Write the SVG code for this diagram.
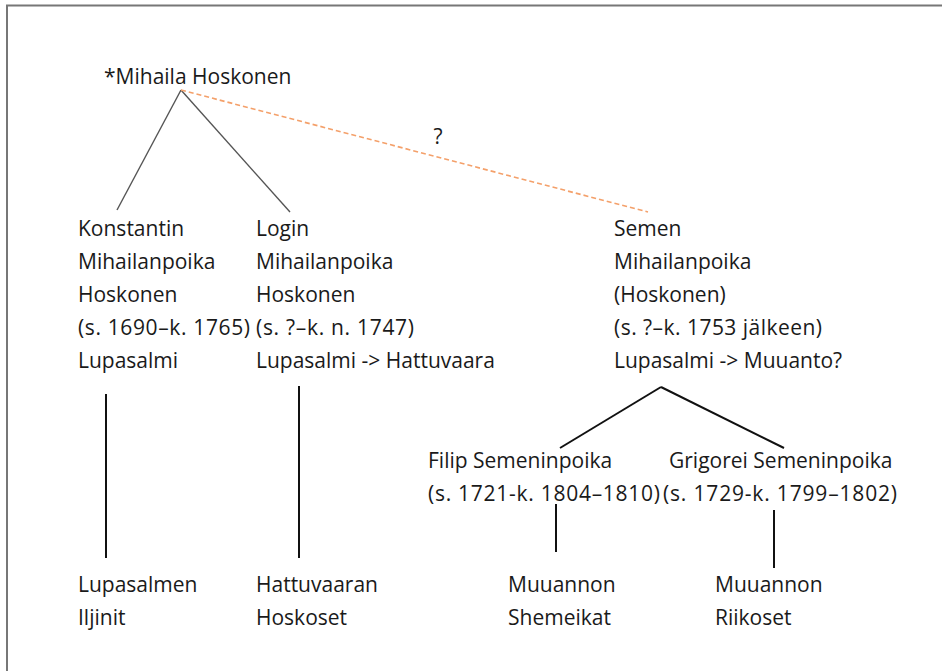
<svg xmlns="http://www.w3.org/2000/svg" width="942" height="671" viewBox="0 0 942 671">
<style>
text{font-family:"Open Sans","Liberation Sans",sans-serif;font-size:21px;fill:#1a1a1a}
.thin{stroke:#555;stroke-width:1.4;fill:none}
.thick{stroke:#111;stroke-width:2;fill:none}
.dash{stroke:#f4a06a;stroke-width:1.6;stroke-dasharray:5 3;fill:none}
.frame{stroke:#777;stroke-width:2;fill:none}
</style>
<rect width="942" height="671" fill="#fff"/>
<path class="frame" d="M7 671 V5.5 H942"/>
<g id="connectors">
<line class="thin" x1="181" y1="90" x2="117" y2="210"/>
<line class="thin" x1="181" y1="90" x2="290" y2="212"/>
<line class="dash" x1="181" y1="90" x2="648" y2="212"/>
<text x="438" y="144" text-anchor="middle">?</text>
<line class="thick" x1="106" y1="394" x2="106" y2="558"/>
<line class="thick" x1="299" y1="386" x2="299" y2="558"/>
<line class="thick" x1="661" y1="387" x2="560" y2="448"/>
<line class="thick" x1="661" y1="387" x2="784" y2="448"/>
<line class="thick" x1="556" y1="504" x2="556" y2="552"/>
<line class="thick" x1="774" y1="510" x2="774" y2="568"/>
</g>
<g id="mihaila"><text x="104" y="84">*Mihaila Hoskonen</text></g>
<g id="konstantin">
<text x="78" y="236">Konstantin</text>
<text x="78" y="269">Mihailanpoika</text>
<text x="78" y="302">Hoskonen</text>
<text x="78" y="335" textLength="172">(s. 1690–k. 1765)</text>
<text x="78" y="368">Lupasalmi</text>
</g>
<g id="login">
<text x="256" y="236">Login</text>
<text x="256" y="269">Mihailanpoika</text>
<text x="256" y="302">Hoskonen</text>
<text x="256" y="335" textLength="158">(s. ?–k. n. 1747)</text>
<text x="256" y="368">Lupasalmi -&gt; Hattuvaara</text>
</g>
<g id="semen">
<text x="614" y="236">Semen</text>
<text x="614" y="269">Mihailanpoika</text>
<text x="614" y="302">(Hoskonen)</text>
<text x="614" y="335" textLength="208">(s. ?–k. 1753 jälkeen)</text>
<text x="614" y="368">Lupasalmi -&gt; Muuanto?</text>
</g>
<g id="filip">
<text x="428" y="468">Filip Semeninpoika</text>
<text x="428" y="501" textLength="232">(s. 1721-k. 1804–1810)</text>
</g>
<g id="grigorei">
<text x="669" y="468">Grigorei Semeninpoika</text>
<text x="663" y="501" textLength="234">(s. 1729-k. 1799–1802)</text>
</g>
<g id="lupasalmen">
<text x="78" y="592">Lupasalmen</text>
<text x="78" y="625">Iljinit</text>
</g>
<g id="hattuvaaran">
<text x="256" y="592">Hattuvaaran</text>
<text x="256" y="625">Hoskoset</text>
</g>
<g id="shemeikat">
<text x="508" y="592">Muuannon</text>
<text x="508" y="625">Shemeikat</text>
</g>
<g id="riikoset">
<text x="715" y="592">Muuannon</text>
<text x="715" y="625">Riikoset</text>
</g>
</svg>
